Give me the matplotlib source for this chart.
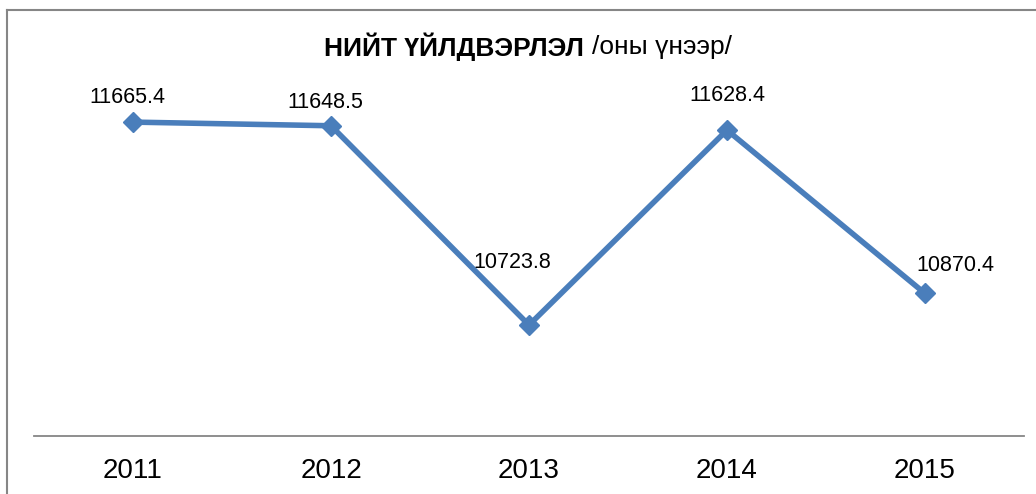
import matplotlib
matplotlib.use("Agg")
from matplotlib import pyplot as plt
from matplotlib.lines import Line2D

# data
years = ["2011", "2012", "2013", "2014", "2015"]
production = [11665.4, 11648.5, 10723.8, 11628.4, 10870.4]

# label offsets (points) to match the hand-placed labels
label_dx = [-4, -4, -12, 0, 22]
label_dy = [18, 17, 45, 25, 20]

plt.rcParams['font.family'] = ['Liberation Sans', 'DejaVu Sans']

W, H = 1036, 494
fig = plt.figure(figsize=(W / 100, H / 100), dpi=100)
ax = fig.add_axes([34 / W, 1 - 436 / H, 990 / W, (436 - 50) / H])

x = range(len(years))
ax.plot(x, production, color='#4A7EBB', linewidth=4, marker='D',
        markersize=10, markerfacecolor='#4A7EBB', markeredgecolor='#4A7EBB',
        solid_joinstyle='round')

for i, v in enumerate(production):
    ax.annotate("{:.1f}".format(v), (i, v), xytext=(label_dx[i], label_dy[i]),
                textcoords='offset points', ha='center', va='center', fontsize=15.5)

ax.set_xlim(-0.5, len(years) - 0.5)
ax.set_ylim(10209, 12000)
ax.set_xticks(list(x))
ax.set_xticklabels(years, fontsize=20)
ax.set_yticks([])
ax.tick_params(axis='x', length=0, pad=16)
for s in ['top', 'right', 'left']:
    ax.spines[s].set_visible(False)
ax.spines['bottom'].set_color('#868686')
ax.spines['bottom'].set_linewidth(1.3)

# title: bold part + normal part
fig.text(584 / W, 1 - 47 / H, "НИЙТ ҮЙЛДВЭРЛЭЛ", ha='right', va='center',
         fontsize=19, fontweight='bold')
fig.text(592 / W, 1 - 47 / H, "/оны үнээр/", ha='left', va='center', fontsize=19)

# outer chart border (cropped on right and bottom)
bx, by = 6.5 / W, 1 - 10 / H
fig.add_artist(Line2D([bx, 1], [by, by], transform=fig.transFigure, color='#868686', linewidth=1.5))
fig.add_artist(Line2D([bx, bx], [0, by], transform=fig.transFigure, color='#868686', linewidth=1.5))

plt.savefig("out.png", dpi=100)
